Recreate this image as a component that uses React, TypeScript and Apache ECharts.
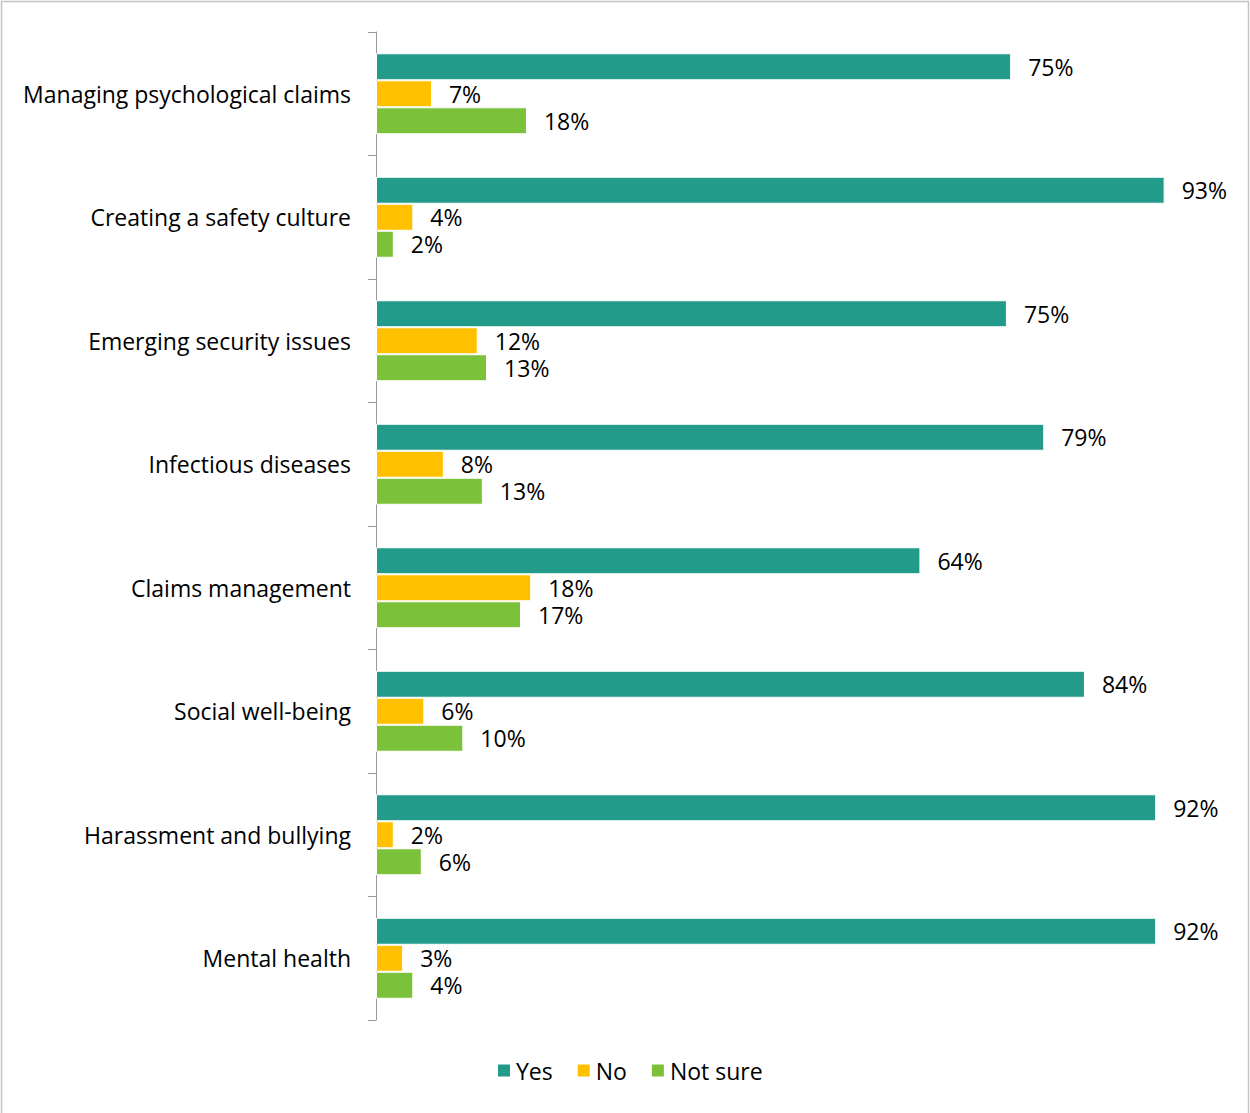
import React, { useEffect, useRef } from "react";
import * as echarts from "echarts";

const categories = [
  "Managing psychological claims",
  "Creating a safety culture",
  "Emerging security issues",
  "Infectious diseases",
  "Claims management",
  "Social well-being",
  "Harassment and bullying",
  "Mental health",
];
const seriesNames = ["Yes", "No", "Not sure"];
const yesValues = [74.9, 93.0, 74.4, 78.8, 64.2, 83.6, 92.0, 92.0];
const noValues = [6.6, 4.4, 12.0, 8.0, 18.3, 5.7, 2.1, 3.2];
const notSureValues = [17.8, 2.1, 13.1, 12.6, 17.1, 10.3, 5.4, 4.4];
const yesLabels = [75, 93, 75, 79, 64, 84, 92, 92];
const noLabels = [7, 4, 12, 8, 18, 6, 2, 3];
const notSureLabels = [18, 2, 13, 13, 17, 10, 6, 4];
const colors = ["#239B8A", "#FFC000", "#7CC13A"];

const FONT = "Open Sans";

export default function App() {
  const ref = useRef<HTMLDivElement>(null);
  useEffect(() => {
    document.body.style.margin = "0";
    const chart = echarts.init(ref.current!, null, { renderer: "svg" });
    const values = [yesValues, noValues, notSureValues];
    const labels = [yesLabels, noLabels, notSureLabels];
    chart.setOption({
      animation: false,
      backgroundColor: "#ffffff",
      textStyle: { fontFamily: FONT },
      graphic: [
        {
          type: "rect",
          shape: { x: 1.5, y: 1.5, width: 1247, height: 1140 },
          style: { fill: "none", stroke: "#c4c4c4", lineWidth: 1.5 },
          silent: true,
        },
      ],
      grid: { left: 376, right: 26, top: 32, bottom: 93, containLabel: false },
      legend: {
        bottom: 26,
        left: 491,
        itemWidth: 14,
        itemHeight: 14,
        itemGap: 23,
        icon: "rect",
        textStyle: { fontSize: 23, color: "#000", fontFamily: FONT },
        data: seriesNames,
      },
      xAxis: {
        type: "value",
        min: 0,
        max: 100,
        show: false,
      },
      yAxis: {
        type: "category",
        data: categories,
        inverse: true,
        axisLine: { show: true, lineStyle: { color: "#999", width: 1 } },
        axisTick: { show: true, length: 8, lineStyle: { color: "#999" } },
        axisLabel: { margin: 25, fontSize: 23, color: "#000", fontFamily: FONT },
        splitLine: { show: false },
      },
      series: seriesNames.map((name, i) => ({
        name,
        type: "bar",
        data: values[i],
        barWidth: 27,
        barGap: "0%",
        itemStyle: { color: colors[i], borderColor: "#fff", borderWidth: 1 },
        label: {
          show: true,
          position: "right",
          distance: 17,
          fontSize: 23,
          lineHeight: 25,
          color: "#000",
          fontFamily: FONT,
          formatter: (p: any) => labels[i][p.dataIndex] + "%",
        },
      })),
    });
    return () => chart.dispose();
  }, []);
  return <div ref={ref} style={{ width: 1250, height: 1113 }} />;
}
